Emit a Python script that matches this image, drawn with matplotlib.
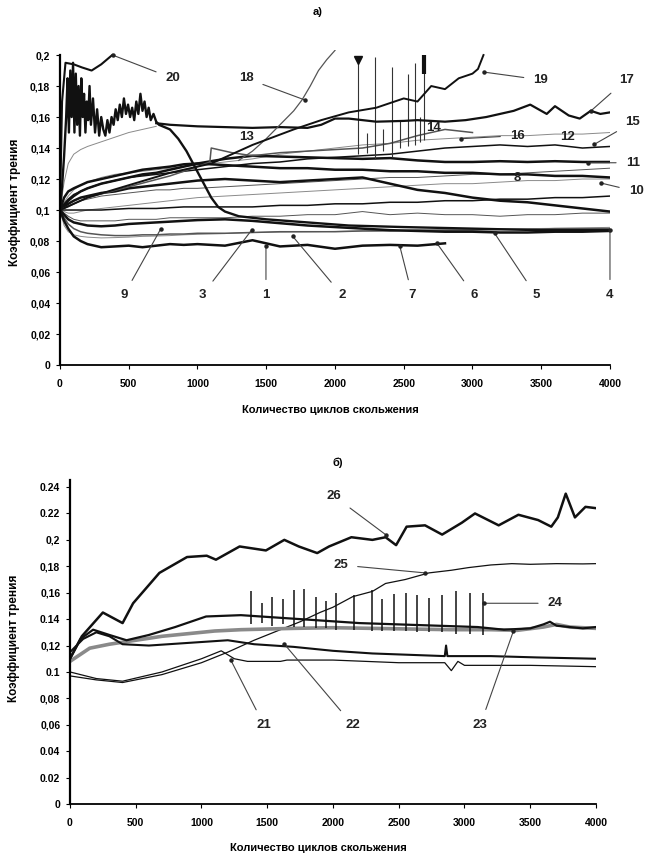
import numpy as np
import matplotlib
matplotlib.use("Agg")
import matplotlib.pyplot as plt

plt.rcParams['font.family'] = ['Liberation Sans', 'DejaVu Sans']
plt.rcParams['font.weight'] = 'bold'

nan = np.nan

# -------------------------- panel a) data --------------------------
X_TOP = [0, 30, 60, 100, 150, 200, 300, 400, 500, 600, 700, 800, 900, 1000, 1200,
         1400, 1600, 1800, 2000, 2200, 2400, 2600, 2800, 3000, 3200, 3400, 3600, 3800, 4000]

s1 = [0.100, 0.093, 0.088, 0.083, 0.080, 0.078, 0.076, 0.0765, 0.077, 0.076, 0.077, 0.078, 0.0775,
      0.078, 0.077, 0.0805, 0.0765, 0.0775, 0.075, 0.077, 0.0775, 0.077, 0.0785, nan, nan, nan, nan, nan, nan]
s2 = [0.100, 0.095, 0.091, 0.088, 0.086, 0.085, 0.084, 0.0835, 0.0835, 0.084, 0.084, 0.0845, 0.0845,
      0.085, 0.085, 0.0855, 0.086, 0.086, 0.086, 0.0865, 0.0865, 0.087, 0.087, 0.087, 0.0875, 0.0875,
      0.088, 0.088, 0.088]
s3 = [0.100, 0.090, 0.086, 0.084, 0.083, 0.0825, 0.082, 0.0822, 0.0825, 0.083, 0.0832, 0.0835, 0.084,
      0.0843, 0.0848, 0.0855, 0.0858, 0.086, 0.0862, 0.0865, 0.0868, 0.087, 0.0872, 0.0875, 0.0877,
      0.088, 0.0882, 0.0885, 0.0888]
s5 = [0.100, 0.098, 0.096, 0.094, 0.093, 0.093, 0.093, 0.093, 0.094, 0.094, 0.094, 0.095, 0.095, 0.095,
      0.095, 0.096, 0.096, 0.097, 0.097, 0.099, 0.097, 0.098, 0.097, 0.097, 0.096, 0.097, 0.097, 0.098, 0.098]
s6 = [0.100, 0.100, 0.100, 0.100, 0.100, 0.100, 0.100, 0.1005, 0.101, 0.101, 0.101, 0.1015, 0.102, 0.102,
      0.102, 0.102, 0.103, 0.103, 0.104, 0.104, 0.105, 0.105, 0.106, 0.106, 0.107, 0.107, 0.108, 0.108, 0.109]
s7 = [0.100, 0.102, 0.104, 0.106, 0.108, 0.109, 0.111, 0.112, 0.114, 0.115, 0.116, 0.117, 0.118, 0.119,
      0.120, 0.119, 0.118, 0.119, 0.120, 0.121, 0.117, 0.113, 0.111, 0.108, 0.106, 0.105, 0.103, 0.101, 0.099]
s8 = [0.100, 0.101, 0.102, 0.104, 0.106, 0.107, 0.109, 0.110, 0.111, 0.112, 0.113, 0.113, 0.114, 0.114,
      0.115, 0.116, 0.117, 0.118, 0.119, 0.120, 0.121, 0.121, 0.122, 0.123, 0.123, 0.124, 0.125, 0.126, 0.127]
s9 = [0.100, 0.097, 0.094, 0.092, 0.091, 0.090, 0.0895, 0.090, 0.091, 0.0915, 0.092, 0.0925, 0.093, 0.0935,
      0.094, 0.093, 0.0915, 0.090, 0.089, 0.088, 0.087, 0.0865, 0.086, 0.086, 0.0855, 0.0855, 0.086, 0.086, 0.0865]
s10 = [0.100, 0.099, 0.098, 0.098, 0.099, 0.100, 0.101, 0.102, 0.103, 0.104, 0.105, 0.106, 0.107, 0.108,
       0.109, 0.110, 0.111, 0.112, 0.113, 0.114, 0.115, 0.116, 0.117, 0.117, 0.118, 0.119, 0.119, 0.120, 0.120]
s11 = [0.100, 0.103, 0.106, 0.109, 0.112, 0.114, 0.117, 0.119, 0.121, 0.123, 0.124, 0.126, 0.128, 0.130,
       0.133, 0.135, 0.1345, 0.134, 0.1335, 0.133, 0.1335, 0.132, 0.131, 0.131, 0.1315, 0.131, 0.1315, 0.131, 0.131]
s12 = [0.100, 0.108, 0.112, 0.114, 0.116, 0.118, 0.120, 0.122, 0.124, 0.126, 0.127, 0.128, 0.1295, 0.130,
       0.129, 0.128, 0.127, 0.127, 0.126, 0.126, 0.125, 0.125, 0.124, 0.124, 0.123, 0.123, 0.122, 0.122, 0.121]
s13 = [0.100, 0.118, 0.130, 0.136, 0.139, 0.141, 0.144, 0.147, 0.150, 0.152, 0.154, nan, nan, nan, nan,
       nan, nan, nan, nan, nan, nan, nan, nan, nan, nan, nan, nan, nan, nan]
s15 = [0.100, 0.104, 0.107, 0.110, 0.112, 0.114, 0.117, 0.119, 0.121, 0.122, 0.123, 0.124, 0.125, 0.126,
       0.128, 0.130, 0.131, 0.133, 0.134, 0.135, 0.136, 0.138, 0.140, 0.141, 0.142, 0.141, 0.142, 0.140, 0.141]
s16 = [0.100, 0.105, 0.109, 0.113, 0.116, 0.118, 0.121, 0.123, 0.124, 0.125, 0.126, 0.127, 0.128, 0.129,
       0.131, 0.133, 0.136, 0.138, 0.140, 0.142, 0.143, 0.145, 0.146, 0.147, 0.148, 0.148, 0.149, 0.149, 0.150]

# noisy curve at the start that falls after ~700 cycles (ends at label 4)
X4 = [0, 15, 30, 45, 55, 65, 75, 85, 95, 105, 115, 125, 135, 145, 155, 165, 175, 185, 195, 205,
      215, 225, 240, 255, 270, 285, 300, 315, 330, 345, 360, 375, 390, 405, 420, 435, 450, 465, 480, 495,
      510, 525, 540, 555, 570, 585, 600, 615, 630, 645, 660, 680, 700, 720,
      800, 860, 920, 980, 1040, 1100, 1150, 1200, 1300, 1500, 1800, 2100, 2500, 3000, 3500, 4000]
Y4 = [0.100, 0.115, 0.135, 0.160, 0.185, 0.150, 0.190, 0.160, 0.195, 0.150, 0.188, 0.155, 0.180, 0.148,
      0.185, 0.160, 0.175, 0.150, 0.170, 0.158, 0.180, 0.155, 0.172, 0.150, 0.165, 0.148, 0.160, 0.152,
      0.148, 0.158, 0.150, 0.160, 0.155, 0.165, 0.158, 0.168, 0.160, 0.172, 0.162, 0.168, 0.160, 0.166,
      0.158, 0.170, 0.162, 0.175, 0.164, 0.170, 0.160, 0.166, 0.158, 0.162, 0.157, 0.155,
      0.152, 0.146, 0.138, 0.128, 0.118, 0.108, 0.102, 0.099, 0.096, 0.094, 0.092, 0.090, 0.089, 0.088,
      0.087, 0.087]

X14 = [0, 200, 500, 800, 1000, 1090, 1100, 1250, 1400, 1600, 1800, 2000, 2200, 2400, 2600, 2800, 3000]
Y14 = [0.100, 0.108, 0.115, 0.122, 0.128, 0.131, 0.140, 0.137, 0.135, 0.137, 0.138, 0.139, 0.140,
       0.143, 0.148, 0.152, 0.150]
SPK14_X = [2170, 2230, 2290, 2350, 2414, 2470, 2530, 2580, 2620, 2650]
SPK14_LO = [0.136, 0.137, 0.133, 0.138, 0.134, 0.140, 0.141, 0.142, 0.144, 0.145]
SPK14_HI = [0.197, 0.150, 0.199, 0.152, 0.192, 0.158, 0.188, 0.195, 0.160, 0.200]

X17 = [700, 800, 1000, 1200, 1400, 1600, 1800, 1900, 2000, 2100, 2300, 2500, 2600, 2800, 2950, 3100,
       3300, 3420, 3540, 3600, 3700, 3780, 3860, 3930, 4000]
Y17 = [0.156, 0.155, 0.154, 0.1535, 0.153, 0.1535, 0.153, 0.155, 0.159, 0.159, 0.157, 0.1575, 0.158,
       0.157, 0.158, 0.160, 0.164, 0.168, 0.162, 0.167, 0.161, 0.159, 0.164, 0.162, 0.163]

X18 = [1300, 1400, 1500, 1600, 1700, 1760, 1820, 1880, 1940, 2000]
Y18 = [0.132, 0.138, 0.146, 0.155, 0.164, 0.171, 0.180, 0.190, 0.197, 0.203]

X19 = [0, 200, 500, 800, 1100, 1400, 1700, 1900, 2100, 2300, 2500, 2600, 2700, 2800, 2900, 3000, 3040, 3080]
Y19 = [0.100, 0.108, 0.116, 0.124, 0.130, 0.142, 0.152, 0.158, 0.163, 0.166, 0.172, 0.170, 0.180,
       0.178, 0.185, 0.188, 0.191, 0.200]

X20 = [0, 15, 40, 100, 160, 230, 300, 380]
Y20 = [0.100, 0.170, 0.195, 0.194, 0.192, 0.190, 0.194, 0.200]

# labels: number, text position, leader end (None = no leader)
LAB_A = ['20', '18', '13', '19', '17', '14', '16', '12', '15', '11', '8', '10',
         '9', '3', '1', '2', '7', '6', '5', '4']
LAB_A_TXT = [(820, 0.185), (1355, 0.185), (1355, 0.147), (3497, 0.184), (4117, 0.184), (2718, 0.153),
             (3327, 0.148), (3692, 0.147), (4166, 0.1565), (4166, 0.1305), (3327, 0.1207), (4190, 0.112),
             (464, 0.045), (1034, 0.045), (1498, 0.045), (2052, 0.045), (2562, 0.045), (3011, 0.045),
             (3461, 0.045), (4000, 0.045)]
LAB_A_PT = [(382, 0.200), (1781, 0.171), None, (3083, 0.189), (3862, 0.164), None,
            (2913, 0.146), None, (3886, 0.1424), (3837, 0.1305), None, (3935, 0.1174),
            (734, 0.088), (1393, 0.087), (1498, 0.0765), (1693, 0.083), (2472, 0.0765), (2742, 0.0785),
            (3161, 0.085), (4000, 0.087)]

# -------------------------- panel б) data --------------------------
X21 = [0, 200, 400, 700, 1000, 1150, 1250, 1350, 1600, 1650, 2000, 2500, 2850, 2900, 2950, 3000, 3500, 4000]
Y21 = [0.100, 0.095, 0.093, 0.100, 0.110, 0.116, 0.110, 0.108, 0.108, 0.109, 0.109, 0.107, 0.107,
       0.101, 0.108, 0.105, 0.105, 0.104]
X22 = [0, 100, 200, 300, 400, 600, 900, 1200, 1400, 1700, 2000, 2300, 2850, 2860, 2870, 3200, 3550, 4000]
Y22 = [0.115, 0.125, 0.130, 0.127, 0.121, 0.120, 0.122, 0.124, 0.121, 0.119, 0.116, 0.114, 0.112,
       0.120, 0.112, 0.112, 0.111, 0.110]
X23 = [0, 150, 300, 500, 700, 900, 1100, 1300, 1500, 1700, 2000, 2300, 2600, 2900, 3200, 3400, 3600,
       3700, 3800, 4000]
Y23 = [0.108, 0.118, 0.121, 0.124, 0.127, 0.129, 0.131, 0.132, 0.1325, 0.133, 0.1335, 0.133, 0.1325,
       0.132, 0.132, 0.1315, 0.134, 0.136, 0.134, 0.133]
X24 = [0, 80, 176, 300, 430, 600, 800, 1035, 1300, 1600, 1900, 2200, 2500, 2800, 3100, 3200, 3300,
       3400, 3500, 3600, 3650, 3700, 3800, 3900, 4000]
Y24 = [0.110, 0.125, 0.132, 0.128, 0.124, 0.128, 0.134, 0.142, 0.143, 0.141, 0.139, 0.137, 0.136,
       0.135, 0.134, 0.133, 0.132, 0.1325, 0.133, 0.136, 0.138, 0.135, 0.134, 0.133, 0.134]
SPK24_X = [1380, 1460, 1540, 1620, 1700, 1780, 1870, 1950, 2023, 2159, 2295, 2371, 2462, 2553,
           2636, 2727, 2826, 2932, 3045, 3144]
SPK24_LO = [0.136, 0.137, 0.135, 0.136, 0.134, 0.134, 0.133, 0.133, 0.132, 0.132, 0.131, 0.131,
            0.131, 0.131, 0.130, 0.130, 0.130, 0.129, 0.129, 0.128]
SPK24_HI = [0.161, 0.152, 0.157, 0.155, 0.162, 0.163, 0.157, 0.154, 0.160, 0.158, 0.162, 0.155,
            0.159, 0.160, 0.158, 0.156, 0.158, 0.161, 0.160, 0.160]
X25 = [0, 200, 400, 700, 1000, 1200, 1400, 1600, 1750, 1900, 2000, 2150, 2300, 2400, 2550, 2730,
       2900, 3030, 3200, 3360, 3500, 3700, 3900, 4000]
Y25 = [0.097, 0.094, 0.092, 0.098, 0.107, 0.115, 0.124, 0.132, 0.138, 0.145, 0.149, 0.157, 0.161,
       0.167, 0.170, 0.175, 0.177, 0.179, 0.181, 0.182, 0.1815, 0.182, 0.1818, 0.182]
X26 = [0, 90, 250, 400, 480, 680, 890, 1040, 1110, 1290, 1490, 1630, 1740, 1880, 1970, 2140, 2300,
       2400, 2480, 2560, 2700, 2830, 2980, 3080, 3260, 3410, 3560, 3660, 3710, 3770, 3840, 3920, 4000]
Y26 = [0.110, 0.127, 0.145, 0.137, 0.152, 0.175, 0.187, 0.188, 0.185, 0.195, 0.192, 0.200, 0.195,
       0.190, 0.195, 0.202, 0.200, 0.202, 0.196, 0.210, 0.211, 0.204, 0.213, 0.220, 0.211, 0.219,
       0.215, 0.210, 0.217, 0.235, 0.217, 0.225, 0.224]

LAB_B = ['26', '25', '24', '21', '22', '23']
LAB_B_TXT = [(2010, 0.233), (2058, 0.181), (3690, 0.152), (1474, 0.060), (2149, 0.060), (3121, 0.060)]
LAB_B_PT = [(2400, 0.204), (2700, 0.175), (3150, 0.152), (1223, 0.109), (1631, 0.121), (3372, 0.131)]

TICKS_A = ['0', '0,02', '0,04', '0,06', '0,08', '0,1', '0,12', '0,14', '0,16', '0,18', '0,2']
TICKS_B = ['0', '0.02', '0.04', '0,06', '0,08', '0.1', '0,12', '0.14', '0,16', '0,18', '0,2', '0.22', '0.24']

# -------------------------- figure --------------------------
fig = plt.figure(figsize=(6.45, 8.57), dpi=100)
axA = fig.add_axes([0.0930, 0.5741, 0.8527, 0.3671])
axB = fig.add_axes([0.1085, 0.0618, 0.8155, 0.3776])

K = '#111111'
G = '#555555'
L = '#8a8a8a'

def style(ax, yticks, ylabels, ytop, ymax):
    ax.set_xlim(0, 4000)
    ax.set_ylim(0, ymax)
    ax.spines['top'].set_visible(False)
    ax.spines['right'].set_visible(False)
    ax.spines['left'].set_linewidth(1.6)
    ax.spines['bottom'].set_linewidth(1.3)
    ax.spines['left'].set_bounds(0, ytop)
    ax.set_xticks(range(0, 4001, 500))
    ax.set_yticks(yticks)
    ax.set_yticklabels(ylabels)
    ax.tick_params(labelsize=7.5, length=3, width=0.8)
    ax.tick_params(axis='x', pad=7)
    ax.tick_params(axis='y', pad=4)
    for t in ax.get_xticklabels() + ax.get_yticklabels():
        t.set_fontweight('bold')

def labels(ax, names, txt, pts):
    for n, (tx, ty), p in zip(names, txt, pts):
        if p is None:
            ax.text(tx, ty, n, fontsize=9.5, fontweight='bold', ha='center', va='center', color='#222')
        else:
            ax.annotate(n, xy=p, xytext=(tx, ty), fontsize=9.5, fontweight='bold', ha='center',
                        va='center', color='#222', annotation_clip=False,
                        arrowprops=dict(arrowstyle='-', lw=0.8, color='#444', shrinkA=5, shrinkB=0))
            ax.plot(p[0], p[1], 'o', ms=2.2, color='#222', clip_on=False, zorder=5)

# ---- panel a)
style(axA, np.arange(0, 0.201, 0.02), TICKS_A, 0.2, 0.203)
thin = [(s3, L), (s5, G), (s8, G), (s10, L), (s13, L), (s16, L)]
for s, c in thin:
    axA.plot(X_TOP, s, color=c, lw=0.7)
for s, c in [(s2, G), (s6, K), (s15, K)]:
    axA.plot(X_TOP, s, color=c, lw=1.1)
for s in [s1, s7, s9, s11, s12]:
    axA.plot(X_TOP, s, color=K, lw=1.8)
axA.plot(X14, Y14, color=G, lw=1.1)
axA.vlines(SPK14_X, SPK14_LO, SPK14_HI, color='#333333', lw=0.8)
axA.plot(SPK14_X[0], SPK14_HI[0], 'v', ms=6, color=K)
axA.vlines(SPK14_X[-1], 0.188, SPK14_HI[-1], color=K, lw=3)
axA.plot(X4, Y4, color=K, lw=1.7)
axA.plot(X17, Y17, color=K, lw=1.6)
axA.plot(X18, Y18, color=G, lw=0.9)
axA.plot(X19, Y19, color=K, lw=1.4)
axA.plot(X20, Y20, color=K, lw=1.5)
labels(axA, LAB_A, LAB_A_TXT, LAB_A_PT)

# ---- panel б)
style(axB, np.arange(0, 0.241, 0.02), TICKS_B, 0.245, 0.245)
axB.plot(X21, Y21, color=K, lw=0.9)
axB.plot(X25, Y25, color=K, lw=0.9)
axB.plot(X23, Y23, color=L, lw=2.6)
axB.plot(X22, Y22, color=K, lw=1.5)
axB.plot(X24, Y24, color=K, lw=1.6)
axB.vlines(SPK24_X, SPK24_LO, SPK24_HI, color=K, lw=1.1)
axB.plot(X26, Y26, color=K, lw=1.8)
labels(axB, LAB_B, LAB_B_TXT, LAB_B_PT)

# ---- texts
fig.text(0.493, 0.986, 'а)', fontsize=8, fontweight='bold', ha='center', va='center')
fig.text(0.524, 0.460, 'б)', fontsize=8, fontweight='bold', ha='center', va='center')
fig.text(0.512, 0.5216, 'Количество циклов скольжения', fontsize=8, fontweight='bold', ha='center', va='center')
fig.text(0.493, 0.0105, 'Количество циклов скольжения', fontsize=8, fontweight='bold', ha='center', va='center')
fig.text(0.023, 0.764, 'Коэффициент трения', fontsize=8.5, fontweight='bold', rotation=90, ha='center', va='center')
fig.text(0.0217, 0.255, 'Коэффициент трения', fontsize=8.5, fontweight='bold', rotation=90, ha='center', va='center')

fig.savefig('out.png', dpi=100)
